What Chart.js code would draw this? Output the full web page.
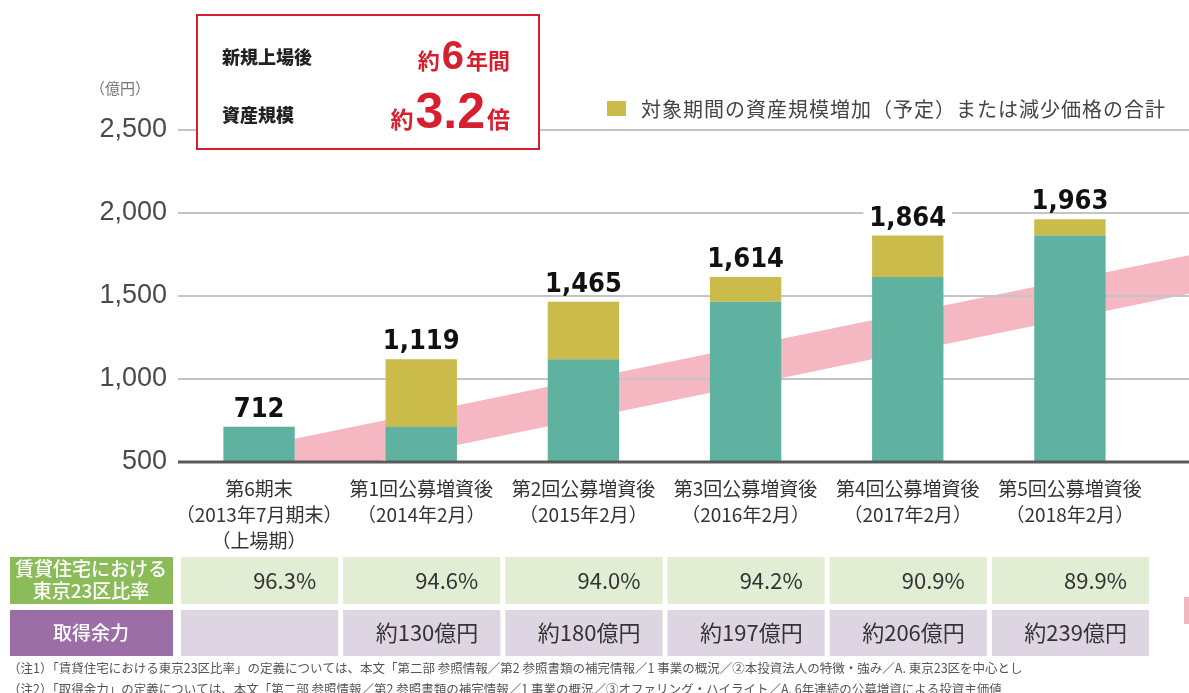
<!DOCTYPE html>
<html>
<head>
<meta charset="utf-8">
<script src="https://cdn.jsdelivr.net/npm/chart.js@4.4.1/dist/chart.umd.min.js"></script>
<style>
  html, body { margin: 0; padding: 0; background: #fff; }
</style>
</head>
<body>
<canvas id="chart" width="1189" height="693"></canvas>
<script>
const categories = [
  ['第6期末', '（2013年7月期末）', '（上場期）'],
  ['第1回公募増資後', '（2014年2月）'],
  ['第2回公募増資後', '（2015年2月）'],
  ['第3回公募増資後', '（2016年2月）'],
  ['第4回公募増資後', '（2017年2月）'],
  ['第5回公募増資後', '（2018年2月）']
];
// existing assets (teal) and the increase for the period (olive)
const baseValues = [712, 712, 1119, 1465, 1614, 1864];
const addedValues = [0, 407, 346, 149, 250, 99];
const tokyoRatio = ['96.3%', '94.6%', '94.0%', '94.2%', '90.9%', '89.9%'];
const capacity = ['', '約130億円', '約180億円', '約197億円', '約206億円', '約239億円'];
const yTicks = [500, 1000, 1500, 2000, 2500];
// decorative pink growth band: [category position, low value, high value]
const bandStart = [0.22, 400, 640];
const bandEnd = [5.74, 1515, 1747];

const JP = "'Noto Sans CJK JP', sans-serif";
const TEAL = '#5fb29f';
const OLIVE = '#cbbb4a';
const RED = '#d7202f';

const backdrop = {
  id: 'backdrop',
  beforeDraw(chart) {
    const { ctx, chartArea: a, scales: { x, y } } = chart;
    const step = x.getPixelForValue(1) - x.getPixelForValue(0);
    const px = v => x.getPixelForValue(0) + v * step;
    ctx.save();
    ctx.beginPath();
    ctx.rect(a.left, a.top, chart.width - a.left, a.bottom - a.top);
    ctx.clip();
    ctx.fillStyle = '#f5b7c1';
    ctx.beginPath();
    ctx.moveTo(px(bandStart[0]), y.getPixelForValue(bandStart[2]));
    ctx.lineTo(px(bandEnd[0]), y.getPixelForValue(bandEnd[2]));
    ctx.lineTo(px(bandEnd[0]), y.getPixelForValue(bandEnd[1]));
    ctx.lineTo(px(bandStart[0]), y.getPixelForValue(bandStart[1]));
    ctx.closePath();
    ctx.fill();
    ctx.restore();
  },
  afterDatasetsDraw(chart) {
    // gridlines carry on past the last category to the page edge; baseline on top of bars
    const { ctx, chartArea: a, scales: { y } } = chart;
    ctx.save();
    yTicks.forEach(v => {
      const yy = y.getPixelForValue(v);
      ctx.strokeStyle = v === 500 ? '#5a5a5a' : '#c4c4c4';
      ctx.lineWidth = v === 500 ? 3 : 2;
      ctx.beginPath();
      ctx.moveTo(v === 500 ? a.left : a.right, yy);
      ctx.lineTo(chart.width, yy);
      ctx.stroke();
    });
    ctx.restore();
  }
};

const totals = {
  id: 'totals',
  afterDatasetsDraw(chart) {
    const { ctx, scales: { x, y } } = chart;
    ctx.save();
    ctx.font = "bold 27px 'DejaVu Sans Condensed', 'DejaVu Sans', sans-serif";
    ctx.textAlign = 'center';
    ctx.textBaseline = 'alphabetic';
    baseValues.forEach((b, i) => {
      const t = b + addedValues[i];
      const txt = t.toLocaleString('en-US');
      const cx = x.getPixelForValue(i);
      const top = y.getPixelForValue(t);
      const w = ctx.measureText(txt).width;
      ctx.fillStyle = '#fff';
      ctx.fillRect(cx - w / 2 - 6, top - 38, w + 12, 30);
      ctx.fillStyle = '#111';
      ctx.fillText(txt, cx, top - 10);
    });
    ctx.restore();
  }
};

function runs(ctx, parts, right, base) {
  let total = 0;
  parts.forEach(p => { ctx.font = p[1]; total += ctx.measureText(p[0]).width + 2; });
  let cx = right - total;
  parts.forEach(p => {
    ctx.font = p[1];
    ctx.fillText(p[0], cx, base);
    cx += ctx.measureText(p[0]).width + 2;
  });
}

const extras = {
  id: 'extras',
  afterDraw(chart) {
    const { ctx, scales: { x } } = chart;
    ctx.save();
    ctx.textBaseline = 'alphabetic';

    // unit
    ctx.fillStyle = '#777';
    ctx.font = '15px ' + JP;
    ctx.textAlign = 'center';
    ctx.fillText('（億円）', 120, 94);

    // callout box
    ctx.fillStyle = '#fff';
    ctx.fillRect(197, 15, 342, 134);
    ctx.strokeStyle = RED;
    ctx.lineWidth = 2;
    ctx.strokeRect(197, 15, 342, 134);
    ctx.textAlign = 'left';
    ctx.fillStyle = '#222';
    ctx.font = '900 18px ' + JP;
    ctx.fillText('新規上場後', 222, 64);
    ctx.fillText('資産規模', 222, 122);
    ctx.fillStyle = RED;
    runs(ctx, [['約', 'bold 22px ' + JP], ['6', "bold 40px 'Liberation Sans', sans-serif"], ['年間', 'bold 22px ' + JP]], 512, 69);
    runs(ctx, [['約', 'bold 23px ' + JP], ['3.2', "bold 50px 'Liberation Sans', sans-serif"], ['倍', 'bold 23px ' + JP]], 512, 128);

    // legend
    ctx.fillStyle = OLIVE;
    ctx.fillRect(607, 101, 19, 15);
    ctx.fillStyle = '#444';
    ctx.font = '20px ' + JP;
    ctx.letterSpacing = '1px';
    ctx.textBaseline = 'middle';
    ctx.fillText('対象期間の資産規模増加（予定）または減少価格の合計', 641, 109);
    ctx.letterSpacing = '0px';

    // table
    const step = x.getPixelForValue(1) - x.getPixelForValue(0);
    const rows = [
      { y: 557, h: 47, head: '#8cbb5a', cell: '#e1eed3', vals: tokyoRatio, label: ['賃貸住宅における', '東京23区比率'] },
      { y: 610, h: 46, head: '#9b6fa6', cell: '#ddd5e2', vals: capacity, label: ['取得余力'] }
    ];
    rows.forEach(r => {
      ctx.fillStyle = r.head;
      ctx.fillRect(10, r.y, 163, r.h);
      ctx.fillStyle = '#fff';
      ctx.textAlign = 'center';
      ctx.font = '500 19px ' + JP;
      if (r.label.length === 2) {
        ctx.fillText(r.label[0], 91, r.y + 12);
        ctx.fillText(r.label[1], 91, r.y + 34);
      } else {
        ctx.fillText(r.label[0], 91, r.y + r.h / 2);
      }
      r.vals.forEach((v, i) => {
        const left = x.getPixelForValue(i) - step / 2 + 3;
        const right = x.getPixelForValue(i) + step / 2 - 2;
        ctx.fillStyle = r.cell;
        ctx.fillRect(left, r.y, right - left, r.h);
        ctx.fillStyle = '#333';
        ctx.textAlign = 'right';
        ctx.font = '22px ' + JP;
        ctx.fillText(v, right - 22, r.y + r.h / 2);
      });
    });
    ctx.fillStyle = '#f2b6c0';
    ctx.fillRect(1184, 597, 5, 27);

    // notes
    ctx.fillStyle = '#555';
    ctx.textAlign = 'left';
    ctx.font = '12.5px ' + JP;
    ctx.fillText('（注1）「賃貸住宅における東京23区比率」の定義については、本文「第二部 参照情報／第2 参照書類の補完情報／1 事業の概況／②本投資法人の特徴・強み／A. 東京23区を中心とし', 8, 668);
    ctx.fillText('（注2）「取得余力」の定義については、本文「第二部 参照情報／第2 参照書類の補完情報／1 事業の概況／③オファリング・ハイライト／A. 6年連続の公募増資による投資主価値', 8, 689);
    ctx.restore();
  }
};

new Chart(document.getElementById('chart'), {
  type: 'bar',
  data: {
    labels: categories,
    datasets: [
      { label: '既存資産', data: baseValues, backgroundColor: TEAL, barPercentage: 0.44, categoryPercentage: 1 },
      { label: '対象期間の資産規模増加（予定）または減少価格の合計', data: addedValues, backgroundColor: OLIVE, barPercentage: 0.44, categoryPercentage: 1 }
    ]
  },
  options: {
    responsive: false,
    animation: false,
    locale: 'en-US',
    layout: { padding: { top: 130, right: 38, left: 0, bottom: 0 } },
    plugins: { legend: { display: false }, tooltip: { enabled: false } },
    scales: {
      x: {
        stacked: true,
        grid: { display: false },
        border: { display: false },
        ticks: { color: '#333', font: { family: JP, size: 19, lineHeight: 1.37 }, padding: 6, maxRotation: 0, autoSkip: false },
        afterFit(s) { s.height = 231; }
      },
      y: {
        stacked: true,
        min: 500,
        max: 2500,
        afterBuildTicks(s) { s.ticks = yTicks.map(v => ({ value: v })); },
        grid: {
          drawTicks: false,
          color: c => c.tick && c.tick.value === 500 ? 'rgba(0,0,0,0)' : '#c4c4c4',
          lineWidth: 2
        },
        border: { display: false },
        ticks: { color: '#4a4a4a', padding: 11, font: { family: "'Liberation Sans', sans-serif", size: 27 } },
        afterFit(s) { s.width = 178; }
      }
    }
  },
  plugins: [backdrop, totals, extras]
});
</script>
</body>
</html>
